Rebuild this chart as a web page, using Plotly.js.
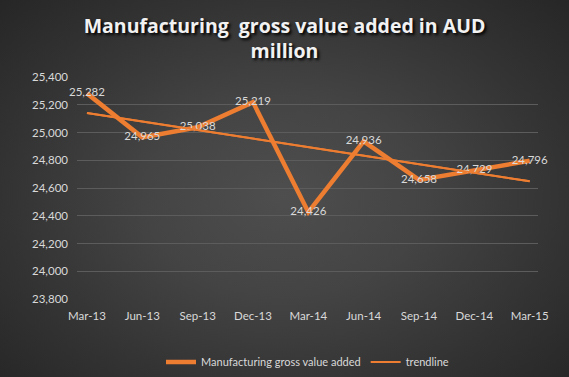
<!DOCTYPE html>
<html>
<head>
<meta charset="utf-8">
<script src="https://cdn.plot.ly/plotly-3.0.1.min.js"></script>
<style>
html,body{margin:0;padding:0;}
body{width:569px;height:377px;overflow:hidden;
background:radial-gradient(ellipse 70% 75% at 50% 52%, #4e4e4e 0%, #444 35%, #333 70%, #262626 100%);}
#chart{width:569px;height:377px;}
</style>
</head>
<body>
<div id="chart"></div>
<script>
const categories = ['Mar-13','Jun-13','Sep-13','Dec-13','Mar-14','Jun-14','Sep-14','Dec-14','Mar-15'];
const grossValue = [25282, 24965, 25038, 25219, 24426, 24936, 24658, 24729, 24796];
const trendCategories = ['Mar-13','Mar-15'];
const trendValues = [25141, 24648];
const yTicks = [23800, 24000, 24200, 24400, 24600, 24800, 25000, 25200, 25400];

const orange = '#ED7D31';
const fontFam = 'Lato, "Open Sans", sans-serif';

const traces = [
  {
    x: trendCategories, y: trendValues, type: 'scatter', mode: 'lines',
    name: 'trendline', line: {color: orange, width: 2},
    hoverinfo: 'skip', showlegend: false
  },
  {
    x: categories, y: grossValue, type: 'scatter', mode: 'lines+text',
    name: 'Manufacturing gross value added',
    line: {color: orange, width: 4.5},
    texttemplate: '%{y:,}', textposition: 'middle center', cliponaxis: false,
    textfont: {color: '#d9d9d9', size: 11.5, family: fontFam},
    hoverinfo: 'skip'
  },
  {
    x: trendCategories, y: trendValues, type: 'scatter', mode: 'lines',
    name: 'trendline', line: {color: orange, width: 2},
    hoverinfo: 'skip', opacity: 0.999
  }
];

const layout = {
  width: 569, height: 377,
  margin: {l: 77, r: 31, t: 77, b: 78, autoexpand: false},
  paper_bgcolor: 'rgba(0,0,0,0)',
  plot_bgcolor: 'rgba(0,0,0,0)',
  font: {family: fontFam, color: '#d9d9d9', size: 11},
  title: {
    text: 'Manufacturing  gross value added in AUD<br>million',
    x: 0.5, xanchor: 'center', xref: 'container', yref: 'container',
    y: 1 - 33/377, yanchor: 'middle',
    font: {family: '"Open Sans", Lato, sans-serif', size: 19.5, color: '#f2f2f2', weight: 'bold', shadow: '2px 2px 3px #000'}
  },
  xaxis: {
    type: 'category', categoryarray: categories, categoryorder: 'array',
    range: [-0.18, 8.15],
    showgrid: false, zeroline: false, showline: false, ticks: '',
    tickfont: {color: '#d9d9d9', size: 11.5}, ticklabelstandoff: 8
  },
  yaxis: {
    range: [23800, 25400], tickvals: yTicks, tickformat: ',',
    showgrid: true, gridcolor: '#5c5c5c', gridwidth: 1,
    zeroline: false, showline: false, ticks: '',
    tickfont: {color: '#d9d9d9', size: 11.5}, ticklabelstandoff: 8
  },
  showlegend: true,
  legend: {
    orientation: 'h', x: 0.5, xanchor: 'center',
    yref: 'container', y: 1 - 362/377, yanchor: 'middle',
    font: {color: '#d9d9d9', size: 11}, bgcolor: 'rgba(0,0,0,0)',
    itemwidth: 30
  },
  hovermode: false
};

Plotly.newPlot('chart', traces, layout, {displayModeBar: false, staticPlot: true});
</script>
</body>
</html>
